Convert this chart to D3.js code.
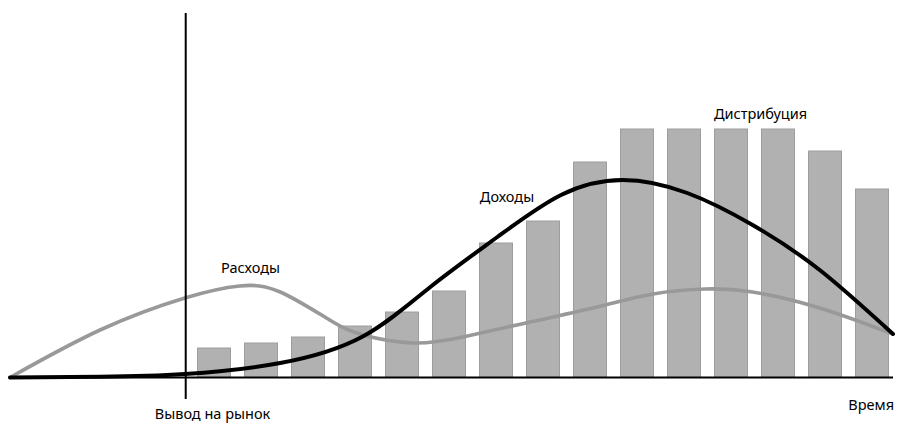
<!DOCTYPE html>
<html lang="ru">
<head>
<meta charset="utf-8">
<script src="https://cdn.jsdelivr.net/npm/d3@7"></script>
<style>
  html, body { margin: 0; padding: 0; background: #fff; }
  svg { display: block; }
  text { font-family: "Noto Sans", "Open Sans", "Liberation Sans", sans-serif; font-size: 14.5px; fill: #000; }
</style>
</head>
<body>
<svg id="chart" width="897" height="424"></svg>
<script>
// Distribution volume per period after market launch (15 periods)
const periods = d3.range(1, 16);
const distribution = [12, 14, 16.4, 20.8, 26.4, 34.8, 54, 62.8, 86.4, 99.6, 99.6, 99.6, 99.6, 90.8, 75.6];

// Smooth curves over the full time axis (t: 0..100)
const revenueT = [0, 10.2, 19.8, 30.6, 40, 47.6, 55.2, 62.4, 69.4, 76.7, 84.1, 91.7, 100];
const revenue  = [0, 0.3, 1.4, 5.8, 16.5, 36.2, 56.2, 73, 79, 73.8, 61, 43, 17.4];

const costsT = [0, 10.2, 19.8, 26, 30.6, 36.2, 40, 45.6, 51.3, 58.9, 66.5, 72.8, 78.7, 84.1, 91.7, 100];
const costs  = [0, 19, 31.8, 36.6, 34.2, 23, 17, 13.8, 16.2, 22.2, 28.2, 33.4, 35.4, 34.2, 27.8, 17.4];

// Market launch moment on the time axis
const launchT = 19.9;

const labels = {
  costs: "Расходы",
  revenue: "Доходы",
  distribution: "Дистрибуция",
  launch: "Вывод на рынок",
  time: "Время"
};

const svg = d3.select("#chart");

const x = d3.scaleLinear().domain([0, 100]).range([10, 893]);
const y = d3.scaleLinear().domain([0, 100]).range([377.5, 127.5]);

// Bars sit to the right of the launch line
const xb = d3.scaleBand()
  .domain(periods)
  .range([184, 902])
  .padding(13 / 47);

svg.append("g")
  .selectAll("rect")
  .data(periods)
  .join("rect")
  .attr("x", d => xb(d) + 0.5)
  .attr("y", (d, i) => y(distribution[i]) + 0.5)
  .attr("width", xb.bandwidth() - 1)
  .attr("height", (d, i) => y(0) - y(distribution[i]) - 0.5)
  .attr("fill", "#b1b1b1")
  .attr("stroke", "#9d9d9d")
  .attr("stroke-width", 1);

const line = d3.line()
  .x(d => x(d[0]))
  .y(d => y(d[1]))
  .curve(d3.curveNatural);

svg.append("path")
  .datum(d3.zip(costsT, costs))
  .attr("d", line)
  .attr("fill", "none")
  .attr("stroke", "#999999")
  .attr("stroke-width", 3.6)
  .attr("stroke-linecap", "round");

svg.append("path")
  .datum(d3.zip(revenueT, revenue))
  .attr("d", line)
  .attr("fill", "none")
  .attr("stroke", "#000")
  .attr("stroke-width", 4)
  .attr("stroke-linecap", "round");

// Time axis
svg.append("line")
  .attr("x1", x(0)).attr("x2", x(100))
  .attr("y1", y(0)).attr("y2", y(0))
  .attr("stroke", "#000").attr("stroke-width", 2);

// Launch marker
svg.append("line")
  .attr("x1", x(launchT)).attr("x2", x(launchT))
  .attr("y1", 13).attr("y2", 399)
  .attr("stroke", "#000").attr("stroke-width", 2);

svg.append("text").attr("x", 250.5).attr("y", 273).attr("text-anchor", "middle").text(labels.costs);
svg.append("text").attr("x", 507).attr("y", 202).attr("text-anchor", "middle").text(labels.revenue);
svg.append("text").attr("x", 760.5).attr("y", 119).attr("text-anchor", "middle").text(labels.distribution);
svg.append("text").attr("x", 212.5).attr("y", 419).attr("text-anchor", "middle").text(labels.launch);
svg.append("text").attr("x", 894).attr("y", 410).attr("text-anchor", "end").text(labels.time);
</script>
</body>
</html>
